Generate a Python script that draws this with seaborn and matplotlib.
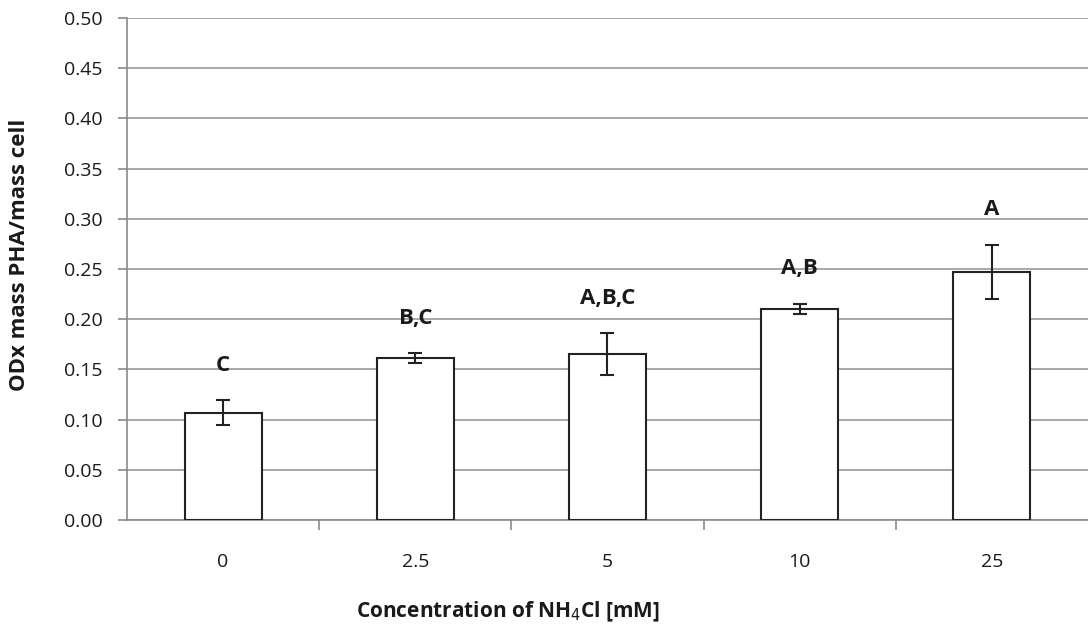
import matplotlib
matplotlib.use("Agg")
import matplotlib.pyplot as plt
import seaborn as sns
import pandas as pd
import numpy as np

# NH4Cl concentration groups and measured PHA content
concentrations = ["0", "2.5", "5", "10", "25"]
pha_ratio = [0.107, 0.161, 0.165, 0.210, 0.247]
pha_err = [0.012, 0.005, 0.021, 0.005, 0.027]
groups = ["C", "B,C", "A,B,C", "A,B", "A"]
y_ticks = [0.00, 0.05, 0.10, 0.15, 0.20, 0.25, 0.30, 0.35, 0.40, 0.45, 0.50]

sns.set_theme(style="white")
plt.rcParams["font.family"] = ["Open Sans", "DejaVu Sans"]

df = pd.DataFrame({"conc": concentrations, "ratio": pha_ratio})

fig = plt.figure(figsize=(10.88, 6.31), dpi=100)
ax = fig.add_axes([0.1167, 0.176, 0.8833, 0.7955])

sns.barplot(data=df, x="conc", y="ratio", order=concentrations, errorbar=None,
            color="white", edgecolor="#222222", linewidth=1.5, width=0.4,
            ax=ax, zorder=3)
for p in ax.patches:
    p.set_facecolor("white")

xpos = np.arange(len(concentrations))
ax.errorbar(xpos, pha_ratio, yerr=pha_err, fmt="none", ecolor="#222222",
            elinewidth=1.5, capsize=5, capthick=1.5, zorder=4)

for x, v, e, g in zip(xpos, pha_ratio, pha_err, groups):
    ax.text(x, v + e + 0.035, g, ha="center", va="center", fontsize=16,
            fontweight="bold", color="#1a1a1a", zorder=5)

ax.set_ylim(0, 0.5)
ax.set_xlim(-0.5, len(concentrations) - 0.5)
ax.set_yticks(y_ticks)
ax.set_yticklabels([f"{t:.2f}" for t in y_ticks], fontsize=14, color="#1a1a1a")
ax.yaxis.grid(True, color="#9a9a9a", linewidth=1.2, zorder=0)
ax.set_axisbelow(True)

# category labels centred, tick marks at category boundaries
ax.set_xticks(xpos)
ax.set_xticklabels(concentrations, fontsize=14, color="#1a1a1a")
ax.tick_params(axis="x", which="major", length=0, pad=24)
ax.set_xticks(np.arange(0.5, len(concentrations) - 0.5, 1.0), minor=True)
ax.tick_params(axis="x", which="minor", length=7, width=1.2, color="#8a8a8a",
               direction="out", bottom=True)
ax.tick_params(axis="y", length=6.5, width=1.2, color="#8a8a8a", direction="out",
               left=True, pad=11)

for side in ["top", "right"]:
    ax.spines[side].set_visible(False)
for side in ["left", "bottom"]:
    ax.spines[side].set_color("#8a8a8a")
    ax.spines[side].set_linewidth(1.2)

ax.set_xlabel("")
ax.set_ylabel("")
fig.text(508 / 1088, 1 - 612 / 631, "Concentration of NH$_4$Cl [mM]",
         ha="center", va="center", fontsize=15, fontweight="bold", color="#1a1a1a")
fig.text(20 / 1088, 1 - 255 / 631, "ODx mass PHA/mass cell", rotation=90,
         ha="center", va="center", fontsize=16, fontweight="bold", color="#1a1a1a")

fig.savefig("out.png", dpi=100)
